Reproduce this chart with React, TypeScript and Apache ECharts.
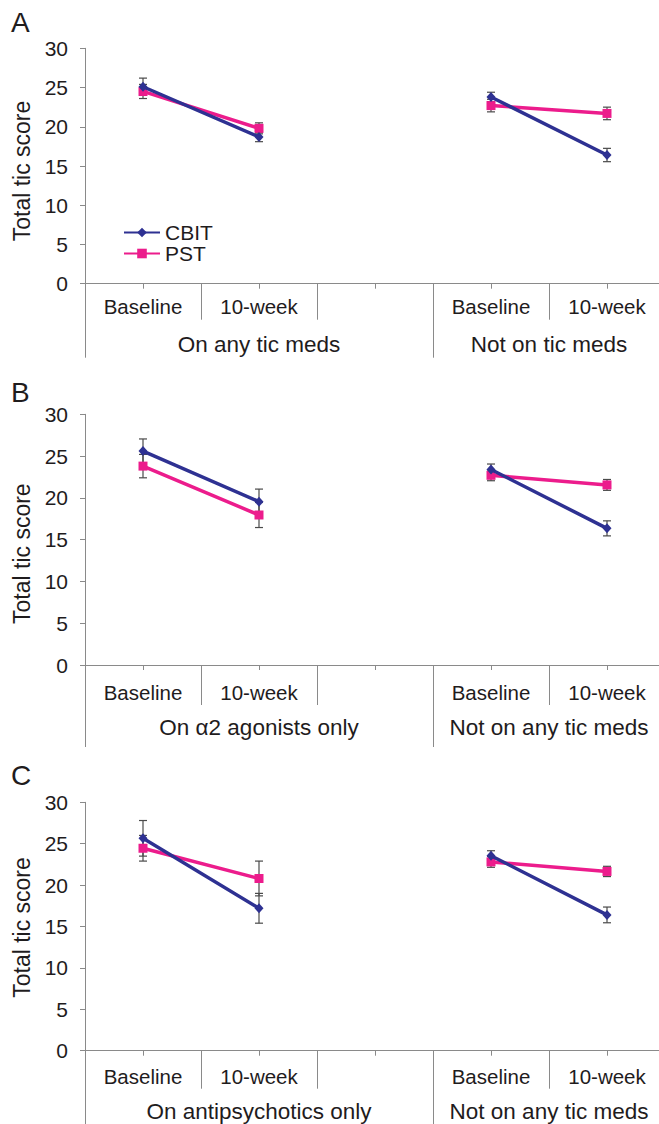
import React, { useEffect, useRef } from 'react';
import * as echarts from 'echarts';

const categories = ['Baseline', '10-week', '', 'Baseline', '10-week'];
const seriesNames = ['CBIT', 'PST'];
const panelLetters = ['A', 'B', 'C'];
const yAxisTitle = 'Total tic score';

const groupLabelsA = ['On any tic meds', 'Not on tic meds'];
const groupLabelsB = ['On α2 agonists only', 'Not on any tic meds'];
const groupLabelsC = ['On antipsychotics only', 'Not on any tic meds'];

// group boundaries (in category units) and label centres
const groupBounds = [0, 3, 5];
const groupCenters = [1.5, 4];

const cbitA = [25.1, 18.7, null, 23.8, 16.4];
const cbitErrA = [1.1, 0.6, null, 0.6, 0.85];
const pstA = [24.5, 19.8, null, 22.7, 21.7];
const pstErrA = [0.9, 0.7, null, 0.8, 0.8];

const cbitB = [25.6, 19.55, null, 23.4, 16.35];
const cbitErrB = [1.45, 1.5, null, 0.65, 0.9];
const pstB = [23.8, 17.95, null, 22.7, 21.55];
const pstErrB = [1.4, 1.5, null, 0.65, 0.65];

const cbitC = [25.65, 17.2, null, 23.55, 16.4];
const cbitErrC = [2.15, 1.8, null, 0.6, 0.95];
const pstC = [24.45, 20.8, null, 22.8, 21.65];
const pstErrC = [1.55, 2.1, null, 0.65, 0.62];

const BLUE = '#2E3192';
const PINK = '#EC1C8C';
const AXIS = '#8a8a8a';
const TEXT = '#1f1c1d';
const ERR = '#4a4a4a';
const FONT = '"Liberation Sans", Arial, sans-serif';

const panels = [
  { cbit: cbitA, cbitErr: cbitErrA, pst: pstA, pstErr: pstErrA, groups: groupLabelsA },
  { cbit: cbitB, cbitErr: cbitErrB, pst: pstB, pstErr: pstErrB, groups: groupLabelsB },
  { cbit: cbitC, cbitErr: cbitErrC, pst: pstC, pstErr: pstErrC, groups: groupLabelsC },
];

// layout (pixels)
const layout = [
  { top: 48.3, height: 235.4, catMargin: 12, shortLen: 36, longLen: 74, groupMargin: 49, letterTop: 8, namePad: 10 },
  { top: 414.3, height: 250.7, catMargin: 17, shortLen: 40, longLen: 82, groupMargin: 51, letterTop: 378, namePad: 28 },
  { top: 802.3, height: 248.4, catMargin: 15, shortLen: 38, longLen: 80, groupMargin: 49, letterTop: 761, namePad: 2 },
];

function errData(vals: (number | null)[], errs: (number | null)[]) {
  const out: number[][] = [];
  vals.forEach((v, i) => {
    const e = errs[i];
    if (v != null && e != null) out.push([i, v - e, v + e]);
  });
  return out;
}

function errRender(params: any, api: any) {
  const x = api.value(0);
  const pLo = api.coord([x, api.value(1)]);
  const pHi = api.coord([x, api.value(2)]);
  const hw = 4;
  const style = { stroke: ERR, lineWidth: 1.2 };
  return {
    type: 'group',
    children: [
      { type: 'line', shape: { x1: pLo[0], y1: pLo[1], x2: pHi[0], y2: pHi[1] }, style },
      { type: 'line', shape: { x1: pLo[0] - hw, y1: pLo[1], x2: pLo[0] + hw, y2: pLo[1] }, style },
      { type: 'line', shape: { x1: pHi[0] - hw, y1: pHi[1], x2: pHi[0] + hw, y2: pHi[1] }, style },
    ],
  };
}

function buildOption() {
  const grid: any[] = [];
  const xAxis: any[] = [];
  const yAxis: any[] = [];
  const series: any[] = [];
  const title: any[] = [];

  panels.forEach((p, k) => {
    const L = layout[k];
    grid.push({ left: 85, width: 580, top: L.top, height: L.height, containLabel: false, outerBoundsMode: 'none' });
    // main category axis
    xAxis.push({
      type: 'category',
      gridIndex: k,
      data: categories,
      boundaryGap: true,
      position: 'bottom',
      axisLine: { show: true, lineStyle: { color: AXIS, width: 1 } },
      axisTick: { show: true, alignWithLabel: true, length: 5, interval: 0, lineStyle: { color: AXIS } },
      axisLabel: { interval: 0, margin: L.catMargin, fontSize: 20.5, color: TEXT, fontFamily: FONT },
      splitLine: { show: false },
    });
    // category separators
    xAxis.push({
      type: 'category',
      gridIndex: k,
      data: categories,
      boundaryGap: true,
      position: 'bottom',
      axisLine: { show: false },
      axisTick: { show: true, alignWithLabel: false, length: L.shortLen, interval: 0, lineStyle: { color: AXIS } },
      axisLabel: { show: false },
      splitLine: { show: false },
    });
    // group level axis
    xAxis.push({
      type: 'value',
      gridIndex: k,
      min: 0,
      max: 5,
      position: 'bottom',
      axisLine: { show: false },
      axisTick: { show: true, customValues: groupBounds, length: L.longLen, lineStyle: { color: AXIS } },
      axisLabel: {
        show: true,
        customValues: groupCenters,
        margin: L.groupMargin,
        fontSize: 22.5,
        color: TEXT,
        fontFamily: FONT,
        formatter: (v: number) => (v === groupCenters[0] ? p.groups[0] : p.groups[1]),
      },
      splitLine: { show: false },
    });
    yAxis.push({
      type: 'value',
      gridIndex: k,
      min: 0,
      max: 30,
      interval: 5,
      name: yAxisTitle,
      nameLocation: 'middle',
      nameGap: 50,
      nameTextStyle: { fontSize: 23, color: TEXT, fontFamily: FONT, padding: [0, L.namePad, 0, 0] },
      axisLine: { show: true, lineStyle: { color: AXIS, width: 1 } },
      axisTick: { show: true, length: 5, lineStyle: { color: AXIS } },
      axisLabel: { margin: 17, fontSize: 21, color: TEXT, fontFamily: FONT },
      splitLine: { show: false },
    });
    const xi = k * 3;
    series.push({
      type: 'custom',
      name: 'CBIT err ' + k,
      xAxisIndex: xi,
      yAxisIndex: k,
      data: errData(p.cbit, p.cbitErr),
      renderItem: errRender,
      encode: { x: 0, y: [1, 2] },
      z: 1,
      silent: true,
    });
    series.push({
      type: 'custom',
      name: 'PST err ' + k,
      xAxisIndex: xi,
      yAxisIndex: k,
      data: errData(p.pst, p.pstErr),
      renderItem: errRender,
      encode: { x: 0, y: [1, 2] },
      z: 1,
      silent: true,
    });
    series.push({
      type: 'line',
      name: seriesNames[0],
      xAxisIndex: xi,
      yAxisIndex: k,
      data: p.cbit,
      connectNulls: false,
      symbol: 'diamond',
      symbolSize: [9, 10],
      showAllSymbol: true,
      lineStyle: { color: BLUE, width: 3.5 },
      itemStyle: { color: BLUE },
      z: 3,
    });
    series.push({
      type: 'line',
      name: seriesNames[1],
      xAxisIndex: xi,
      yAxisIndex: k,
      data: p.pst,
      connectNulls: false,
      symbol: 'rect',
      symbolSize: 9,
      showAllSymbol: true,
      lineStyle: { color: PINK, width: 3.5 },
      itemStyle: { color: PINK },
      z: 2,
    });
    title.push({
      text: panelLetters[k],
      left: 11,
      top: L.letterTop,
      padding: 0,
      textStyle: { fontSize: 28, fontWeight: 'normal', color: TEXT, fontFamily: FONT },
    });
  });

  return {
    animation: false,
    backgroundColor: '#ffffff',
    textStyle: { fontFamily: FONT },
    title,
    legend: {
      data: seriesNames,
      orient: 'vertical',
      left: 123,
      top: 222,
      padding: 0,
      itemWidth: 36,
      itemHeight: 12,
      itemGap: 0,
      textStyle: { fontSize: 21, lineHeight: 20, color: TEXT, fontFamily: FONT },
    },
    grid,
    xAxis,
    yAxis,
    series,
  };
}

export default function App() {
  const ref = useRef<HTMLDivElement>(null);
  useEffect(() => {
    if (!ref.current) return;
    const chart = echarts.init(ref.current, undefined, { renderer: 'svg' });
    chart.setOption(buildOption() as any);
    return () => chart.dispose();
  }, []);
  return (
    <div style={{ position: 'absolute', left: 0, top: 0, width: 659, height: 1124, overflow: 'hidden', background: '#fff' }}>
      <div ref={ref} style={{ width: 659, height: 1124 }} />
    </div>
  );
}
